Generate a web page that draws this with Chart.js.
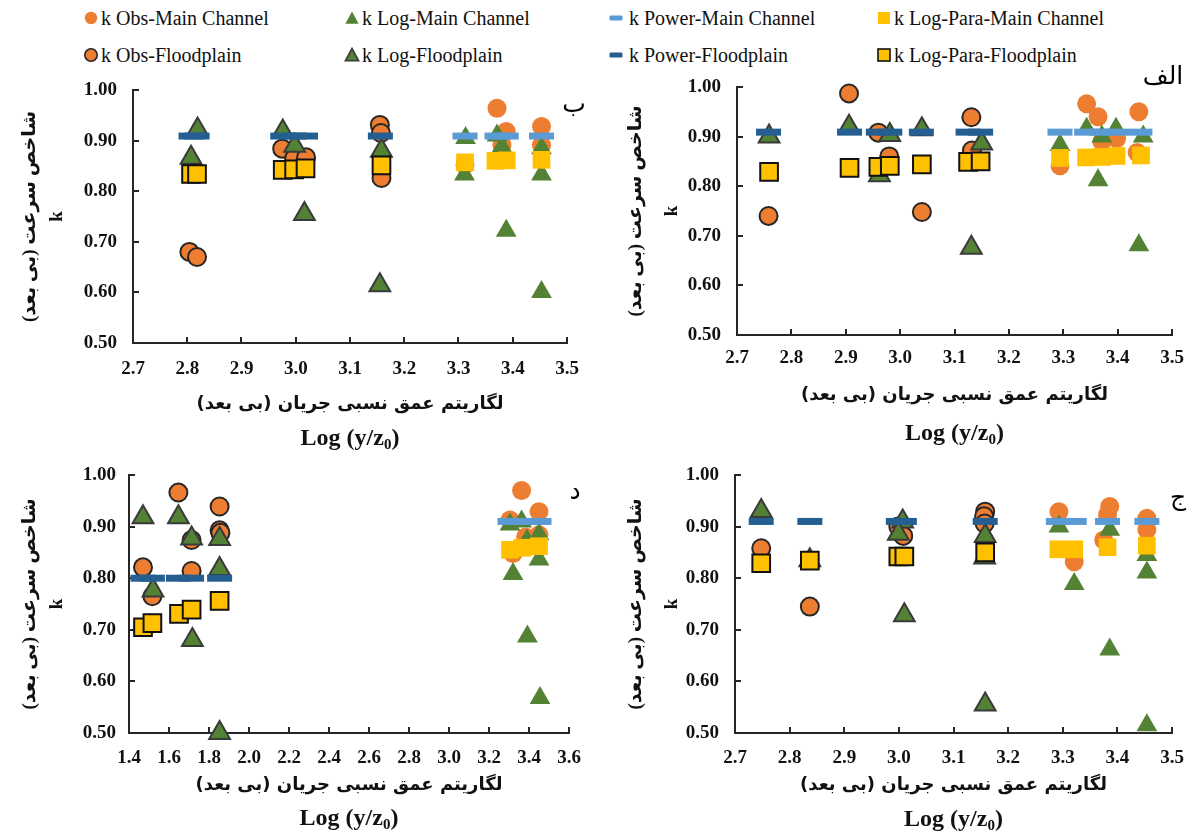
<!DOCTYPE html>
<html>
<head>
<meta charset="utf-8">
<script src="https://cdn.jsdelivr.net/npm/chart.js@4.4.1/dist/chart.umd.min.js"></script>
<style>
  html, body { margin: 0; padding: 0; background: #fff; width: 1193px; height: 835px; overflow: hidden; }
  canvas.panel { position: absolute; }
  .tag { position: absolute; font-family: 'DejaVu Sans', sans-serif; font-size: 25px; color: #000; line-height: 1; transform: translate(-50%, -50%); white-space: nowrap; }
  .logt { position: absolute; font-family: 'Liberation Serif', 'Times New Roman', serif; font-weight: bold; font-size: 24px; color: #111; line-height: 1; transform: translate(-50%, -50%); white-space: nowrap; }
  .logt sub { font-size: 15px; vertical-align: -4px; line-height: 0; }
  .lg { position: absolute; display: flex; align-items: center; height: 26px; font-family: 'Liberation Serif', 'Times New Roman', serif; font-size: 20px; color: #111; white-space: nowrap; }
  .lg svg { flex: none; }
</style>
</head>
<body>
<canvas id="pB" class="panel"></canvas>
<canvas id="pA" class="panel"></canvas>
<canvas id="pD" class="panel"></canvas>
<canvas id="pJ" class="panel"></canvas>
<div id="legend"></div>
<div id="tags"></div>

<script>
// ---------- series, ticks and axis texts ----------
const SERIES_NAMES = [
  'k Obs-Main Channel', 'k Log-Main Channel', 'k Power-Main Channel', 'k Log-Para-Main Channel',
  'k Obs-Floodplain', 'k Log-Floodplain', 'k Power-Floodplain', 'k Log-Para-Floodplain'
];
const Y_TICKS = [0.5, 0.6, 0.7, 0.8, 0.9, 1.0];
const X_TICKS_NARROW = [2.7, 2.8, 2.9, 3.0, 3.1, 3.2, 3.3, 3.4, 3.5];
const X_TICKS_WIDE = [1.4, 1.6, 1.8, 2.0, 2.2, 2.4, 2.6, 2.8, 3.0, 3.2, 3.4, 3.6];
const Y_TITLE = ['شاخص سرعت (بی بعد)\u200F', 'k'];
const X_TITLE_FA = 'لگاریتم عمق نسبی جریان (بی بعد)\u200F';
const X_TITLE_LOG = 'Log (y/z<sub>0</sub>)';
const TAG_ALEF = 'الف', TAG_BE = 'ب', TAG_JIM = 'ج', TAG_DAL = 'د';

// ---------- panel الف : [log(y/z0), k] ----------
const ALEF_OBS_MAIN   = [[3.294,0.841],[3.343,0.966],[3.364,0.940],[3.371,0.890],[3.398,0.896],[3.439,0.950],[3.436,0.868]];
const ALEF_LOG_MAIN   = [[3.294,0.883],[3.343,0.916],[3.371,0.900],[3.397,0.916],[3.447,0.900],[3.364,0.812],[3.439,0.681]];
const ALEF_POW_MAIN   = [[3.294,0.909],[3.343,0.909],[3.371,0.909],[3.397,0.909],[3.441,0.909]];
const ALEF_PARA_MAIN  = [[3.294,0.857],[3.342,0.858],[3.371,0.859],[3.398,0.861],[3.443,0.862]];
const ALEF_OBS_FP     = [[2.758,0.740],[2.906,0.987],[2.960,0.908],[2.980,0.860],[3.040,0.748],[3.131,0.939],[3.132,0.872]];
const ALEF_LOG_FP     = [[2.759,0.900],[2.906,0.920],[2.962,0.822],[2.981,0.903],[3.040,0.915],[3.150,0.886],[3.131,0.676]];
const ALEF_POW_FP     = [[2.758,0.909],[2.907,0.909],[2.960,0.909],[2.981,0.909],[3.039,0.909],[3.125,0.909],[3.148,0.909]];
const ALEF_PARA_FP    = [[2.759,0.829],[2.907,0.837],[2.960,0.839],[2.981,0.841],[3.040,0.844],[3.125,0.849],[3.148,0.850]];

// ---------- panel ب ----------
const BE_OBS_MAIN   = [[3.312,0.852],[3.371,0.964],[3.388,0.918],[3.380,0.891],[3.453,0.928],[3.453,0.891]];
const BE_LOG_MAIN   = [[3.313,0.905],[3.311,0.833],[3.371,0.910],[3.380,0.888],[3.388,0.722],[3.453,0.885],[3.453,0.833],[3.453,0.601]];
const BE_POW_MAIN   = [[3.312,0.909],[3.371,0.909],[3.388,0.909],[3.453,0.909]];
const BE_PARA_MAIN  = [[3.312,0.857],[3.368,0.860],[3.389,0.861],[3.453,0.862]];
const BE_OBS_FP     = [[2.804,0.680],[2.818,0.670],[2.975,0.884],[2.997,0.865],[3.019,0.867],[3.155,0.931],[3.157,0.915],[3.158,0.826]];
const BE_LOG_FP     = [[2.819,0.922],[2.807,0.866],[2.976,0.918],[2.998,0.890],[3.016,0.755],[3.158,0.880],[3.155,0.614]];
const BE_POW_FP     = [[2.807,0.909],[2.818,0.909],[2.976,0.909],[2.997,0.909],[3.018,0.909],[3.156,0.909]];
const BE_PARA_FP    = [[2.807,0.834],[2.818,0.834],[2.976,0.842],[2.997,0.843],[3.018,0.845],[3.158,0.851]];

// ---------- panel ج ----------
const JIM_OBS_MAIN  = [[3.293,0.929],[3.321,0.832],[3.386,0.939],[3.382,0.923],[3.375,0.874],[3.454,0.916],[3.454,0.894]];
const JIM_LOG_MAIN  = [[3.293,0.900],[3.321,0.789],[3.386,0.894],[3.386,0.662],[3.454,0.845],[3.454,0.811],[3.454,0.515]];
const JIM_POW_MAIN  = [[3.292,0.910],[3.321,0.910],[3.382,0.910],[3.454,0.910]];
const JIM_PARA_MAIN = [[3.292,0.856],[3.321,0.856],[3.382,0.860],[3.454,0.863]];
const JIM_OBS_FP    = [[2.748,0.858],[2.837,0.745],[2.999,0.900],[3.008,0.882],[3.158,0.929],[3.156,0.920],[3.157,0.906]];
const JIM_LOG_FP    = [[2.748,0.930],[2.837,0.835],[3.007,0.910],[2.999,0.886],[3.010,0.728],[3.158,0.882],[3.157,0.840],[3.158,0.555]];
const JIM_POW_FP    = [[2.748,0.910],[2.837,0.910],[2.999,0.910],[3.010,0.910],[3.158,0.910]];
const JIM_PARA_FP   = [[2.748,0.829],[2.837,0.834],[2.999,0.842],[3.010,0.842],[3.158,0.850]];

// ---------- panel د ----------
const DAL_OBS_MAIN  = [[3.305,0.913],[3.363,0.970],[3.450,0.929],[3.383,0.880],[3.450,0.884],[3.320,0.848]];
const DAL_LOG_MAIN  = [[3.305,0.904],[3.363,0.910],[3.390,0.873],[3.450,0.885],[3.450,0.836],[3.320,0.808],[3.392,0.687],[3.455,0.568]];
const DAL_POW_MAIN  = [[3.305,0.910],[3.367,0.910],[3.450,0.910]];
const DAL_PARA_MAIN = [[3.305,0.855],[3.367,0.859],[3.450,0.862]];
const DAL_OBS_FP    = [[1.470,0.821],[1.517,0.765],[1.647,0.966],[1.713,0.874],[1.713,0.814],[1.853,0.939],[1.853,0.893],[1.857,0.888]];
const DAL_LOG_FP    = [[1.470,0.918],[1.520,0.776],[1.647,0.918],[1.713,0.877],[1.717,0.680],[1.853,0.876],[1.853,0.818],[1.853,0.500]];
const DAL_POW_FP    = [[1.470,0.800],[1.517,0.800],[1.647,0.800],[1.713,0.800],[1.853,0.800]];
const DAL_PARA_FP   = [[1.470,0.705],[1.517,0.713],[1.650,0.731],[1.713,0.739],[1.853,0.756]];

// ---------- marker styles, one per series ----------
const DARK = '#262626';
const STYLES = [
  { pointStyle: 'circle',   radius: 9.5,  fill: '#ED7D31', edge: '#ED7D31', bw: 0 },
  { pointStyle: 'triangle', radius: 12,   fill: '#548235', edge: '#548235', bw: 0 },
  { pointStyle: 'line',     radius: 12.5, fill: '#5B9BD5', edge: '#5B9BD5', bw: 7 },
  { pointStyle: 'rect',     radius: 12.5, fill: '#FFC000', edge: '#FFC000', bw: 0 },
  { pointStyle: 'circle',   radius: 9,    fill: '#ED7D31', edge: DARK,      bw: 2 },
  { pointStyle: 'triangle', radius: 12,   fill: '#548235', edge: '#3a3a3a', bw: 2 },
  { pointStyle: 'line',     radius: 12.5, fill: '#255E91', edge: '#255E91', bw: 7 },
  { pointStyle: 'rect',     radius: 12.5, fill: '#FFC000', edge: '#111111', bw: 2 }
];

// ---------- panel frames (page pixels) ----------
const FRAMES = {
  pB: { canvas: [0, 75, 597, 380],   area: [133, 90, 567, 343],  xLab: 369, xTit: [404, 437], yTit: [30, 57],   yLab: 117, tag: [TAG_BE, 574, 103] },
  pA: { canvas: [600, 70, 593, 380], area: [737, 87, 1172, 335], xLab: 358, xTit: [395, 432], yTit: [636, 672], yLab: 721, tag: [TAG_ALEF, 1163, 75] },
  pD: { canvas: [0, 455, 597, 380],  area: [129, 475, 569, 733], xLab: 758, xTit: [785, 817], yTit: [30, 57],   yLab: 116, tag: [TAG_DAL, 575, 490] },
  pJ: { canvas: [600, 455, 593, 380],area: [735, 475, 1172, 733],xLab: 758, xTit: [785, 818], yTit: [636, 672], yLab: 719, tag: [TAG_JIM, 1178, 496] }
};

const toPts = arr => arr.map(p => ({ x: p[0], y: p[1] }));

// small inward tick marks on both axes
const innerTicks = {
  id: 'innerTicks',
  beforeDatasetsDraw(chart) {
    const { ctx, chartArea: a, scales: { x, y } } = chart;
    ctx.save();
    ctx.strokeStyle = DARK;
    ctx.lineWidth = 2;
    x.ticks.forEach(t => {
      const px = Math.round(x.getPixelForValue(t.value));
      ctx.beginPath(); ctx.moveTo(px, a.bottom); ctx.lineTo(px, a.bottom - 6); ctx.stroke();
    });
    y.ticks.forEach(t => {
      const py = Math.round(y.getPixelForValue(t.value));
      ctx.beginPath(); ctx.moveTo(a.left, py); ctx.lineTo(a.left + 6, py); ctx.stroke();
    });
    ctx.restore();
  }
};

const SERIF = "'Liberation Serif', 'DejaVu Sans', serif";
const ARABIC = "'DejaVu Sans', sans-serif";

function addText(cls, html, x, y) {
  const d = document.createElement('div');
  d.className = cls;
  d.innerHTML = html;
  d.style.left = x + 'px';
  d.style.top = y + 'px';
  document.getElementById('tags').appendChild(d);
}

function buildPanel(id, xTicks, xMin, xMax, seriesArrays) {
  const f = FRAMES[id];
  const [cl, ct, cw, chH] = f.canvas;
  const [al, at, ar, ab] = f.area;
  const cv = document.getElementById(id);
  cv.width = cw; cv.height = chH;
  cv.style.left = cl + 'px'; cv.style.top = ct + 'px';
  cv.style.width = cw + 'px'; cv.style.height = chH + 'px';

  const tickSize = 19, tickLH = tickSize * 1.2;
  const xTitLH = 24;
  const yTitL = f.yTit[1] - f.yTit[0];

  const datasets = seriesArrays.map((arr, i) => {
    const s = STYLES[i];
    return {
      label: SERIES_NAMES[i],
      data: toPts(arr),
      order: seriesArrays.length - i,
      pointStyle: s.pointStyle,
      pointRadius: s.radius,
      pointHoverRadius: s.radius,
      backgroundColor: s.fill,
      borderColor: s.edge,
      pointBorderWidth: s.bw,
      pointHoverBorderWidth: s.bw,
      showLine: false,
      clip: false
    };
  });

  // label offsets go through the (hidden) tick length so they do not widen the layout padding
  const xGap = Math.max(0, f.xLab - ab - tickLH / 2 - 1);
  const yGap = Math.max(0, al - f.yLab - 1);

  const chart = new Chart(cv, {
    type: 'scatter',
    data: { datasets },
    options: {
      responsive: false,
      animation: false,
      devicePixelRatio: 1,
      events: [],
      layout: { autoPadding: false, padding: { top: at - ct, right: cl + cw - ar, left: 0, bottom: 0 } },
      plugins: { legend: { display: false }, tooltip: { enabled: false } },
      scales: {
        x: {
          type: 'linear', min: xMin, max: xMax,
          afterBuildTicks: s => { s.ticks = xTicks.map(v => ({ value: v })); },
          afterFit: s => { s.height = ct + chH - ab; },
          grid: { display: false, drawTicks: true, tickLength: xGap },
          border: { display: true, color: DARK, width: 2 },
          ticks: {
            autoSkip: false, maxRotation: 0, color: '#111', padding: 1,
            font: { family: SERIF, size: tickSize, weight: 'bold' },
            callback: v => Number(v).toFixed(1)
          },
          title: {
            display: true, text: X_TITLE_FA, color: '#111',
            font: { family: ARABIC, size: 18, weight: 'bold', lineHeight: xTitLH + 'px' },
            padding: { top: 0, bottom: (ct + chH) - f.xTit[0] - xTitLH / 2 }
          }
        },
        y: {
          type: 'linear', min: 0.5, max: 1.0,
          afterBuildTicks: s => { s.ticks = Y_TICKS.map(v => ({ value: v })); },
          afterFit: s => { s.width = al - cl; },
          grid: { display: false, drawTicks: true, tickLength: yGap },
          border: { display: true, color: DARK, width: 2 },
          ticks: {
            color: '#111', padding: 1,
            font: { family: SERIF, size: tickSize, weight: 'bold' },
            callback: v => Number(v).toFixed(2)
          },
          title: {
            display: true, text: Y_TITLE, color: '#111',
            font: { family: SERIF, size: 19, weight: 'bold', lineHeight: yTitL + 'px' },
            padding: { top: f.yTit[0] - cl - yTitL / 2, bottom: 0 }
          }
        }
      }
    },
    plugins: [innerTicks]
  });

  // pull the plot area onto its frame
  const ca = chart.chartArea;
  const pad = chart.config.options.layout.padding;
  chart.config.options.layout.padding = {
    top: Math.max(0, pad.top + (at - ct) - ca.top),
    right: Math.max(0, pad.right + ca.right - (ar - cl)),
    left: 0, bottom: 0
  };
  chart.update();

  addText('logt', X_TITLE_LOG, (al + ar) / 2, f.xTit[1]);
  addText('tag', f.tag[0], f.tag[1], f.tag[2]);
}

buildPanel('pB', X_TICKS_NARROW, 2.7, 3.5,
  [BE_OBS_MAIN, BE_LOG_MAIN, BE_POW_MAIN, BE_PARA_MAIN, BE_OBS_FP, BE_LOG_FP, BE_POW_FP, BE_PARA_FP]);
buildPanel('pA', X_TICKS_NARROW, 2.7, 3.5,
  [ALEF_OBS_MAIN, ALEF_LOG_MAIN, ALEF_POW_MAIN, ALEF_PARA_MAIN, ALEF_OBS_FP, ALEF_LOG_FP, ALEF_POW_FP, ALEF_PARA_FP]);
buildPanel('pD', X_TICKS_WIDE, 1.4, 3.6,
  [DAL_OBS_MAIN, DAL_LOG_MAIN, DAL_POW_MAIN, DAL_PARA_MAIN, DAL_OBS_FP, DAL_LOG_FP, DAL_POW_FP, DAL_PARA_FP]);
buildPanel('pJ', X_TICKS_NARROW, 2.7, 3.5,
  [JIM_OBS_MAIN, JIM_LOG_MAIN, JIM_POW_MAIN, JIM_PARA_MAIN, JIM_OBS_FP, JIM_LOG_FP, JIM_POW_FP, JIM_PARA_FP]);

// ---------- shared legend, two rows of four ----------
const LEG_COLS = [91, 352, 616, 884];
const LEG_ROWS = [18, 55];
function legendIcon(s) {
  let shape = '';
  const stroke = s.bw > 0 ? ` stroke="${s.edge}" stroke-width="1.6"` : '';
  if (s.pointStyle === 'circle') shape = `<circle cx="8" cy="8" r="6.2" fill="${s.fill}"${stroke}/>`;
  else if (s.pointStyle === 'triangle') shape = `<polygon points="8,1.5 14.6,13.8 1.4,13.8" fill="${s.fill}"${stroke}/>`;
  else if (s.pointStyle === 'line') shape = `<rect x="1.5" y="5.6" width="13" height="4.8" rx="1.2" fill="${s.fill}"/>`;
  else shape = `<rect x="2" y="2" width="12" height="12" fill="${s.fill}"${stroke}/>`;
  return `<svg width="16" height="16" viewBox="0 0 16 16">${shape}</svg>`;
}
const legendBox = document.getElementById('legend');
SERIES_NAMES.forEach((name, i) => {
  const col = i % 4, row = Math.floor(i / 4);
  const item = document.createElement('div');
  item.className = 'lg';
  item.style.left = (LEG_COLS[col] - 8) + 'px';
  item.style.top = (LEG_ROWS[row] - 13) + 'px';
  const gap = STYLES[i].pointStyle === 'line' ? 5 : 2;
  item.innerHTML = legendIcon(STYLES[i]) + `<span style="margin-left:${gap}px">${name}</span>`;
  legendBox.appendChild(item);
});
</script>
</body>
</html>
